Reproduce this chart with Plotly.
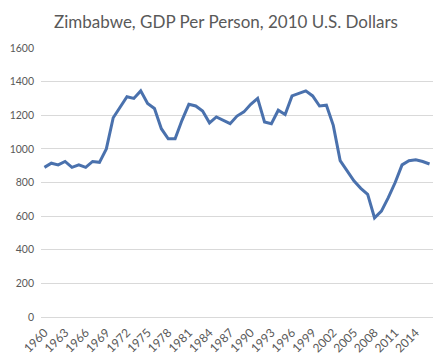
import plotly.graph_objects as go

years = list(range(1960, 2017))
gdp_per_person = [
    890, 915, 905, 925, 890, 905, 890, 925, 920, 1000,
    1185, 1250, 1310, 1300, 1345, 1270, 1240, 1120, 1060, 1060,
    1170, 1265, 1255, 1225, 1155, 1190, 1170, 1150, 1195, 1220,
    1265, 1300, 1160, 1150, 1230, 1205, 1315, 1330, 1345, 1315,
    1255, 1260, 1140, 930, 870, 810, 765, 730, 590, 630,
    710, 800, 905, 930, 935, 925, 910,
]
tick_years = [str(y) for y in years[::3]]
y_ticks = [0, 200, 400, 600, 800, 1000, 1200, 1400, 1600]

grey = "#595959"
fig = go.Figure(
    go.Scatter(
        x=[str(y) for y in years],
        y=gdp_per_person,
        mode="lines",
        line=dict(color="#4a71ad", width=3),
        hoverinfo="x+y",
    )
)
# The page body has an 8px default margin, so the figure is sized 8px smaller
# and everything is placed 8px up/left to land where the reference has it.
fig.update_layout(
    width=436,
    height=351,
    margin=dict(l=33, r=11, t=40, b=42, autoexpand=False),
    paper_bgcolor="white",
    plot_bgcolor="white",
    showlegend=False,
    title=dict(
        text="Zimbabwe, GDP Per Person, 2010 U.S. Dollars",
        x=0.5,
        xref="container",
        xanchor="center",
        y=0.96,
        yanchor="middle",
        font=dict(family="Lato", size=17, color=grey),
    ),
    font=dict(family="Lato", size=11, color=grey),
)
fig.update_xaxes(
    type="category",
    range=[-0.5, len(years) - 0.5],
    tickmode="array",
    tickvals=tick_years,
    ticktext=tick_years,
    tickangle=-45,
    automargin=False,
    showgrid=False,
    showline=True,
    linecolor="#d9d9d9",
    linewidth=1,
    ticks="",
    ticklabelstandoff=3,
    tickfont=dict(family="Lato", size=12, color=grey),
)
fig.update_yaxes(
    range=[0, 1600],
    tickmode="array",
    tickvals=y_ticks,
    automargin=False,
    showgrid=True,
    gridcolor="#d9d9d9",
    gridwidth=1,
    zeroline=False,
    ticks="",
    ticklabelstandoff=6,
    tickfont=dict(family="Lato", size=10.5, color=grey),
)
fig.write_html("out.html")
